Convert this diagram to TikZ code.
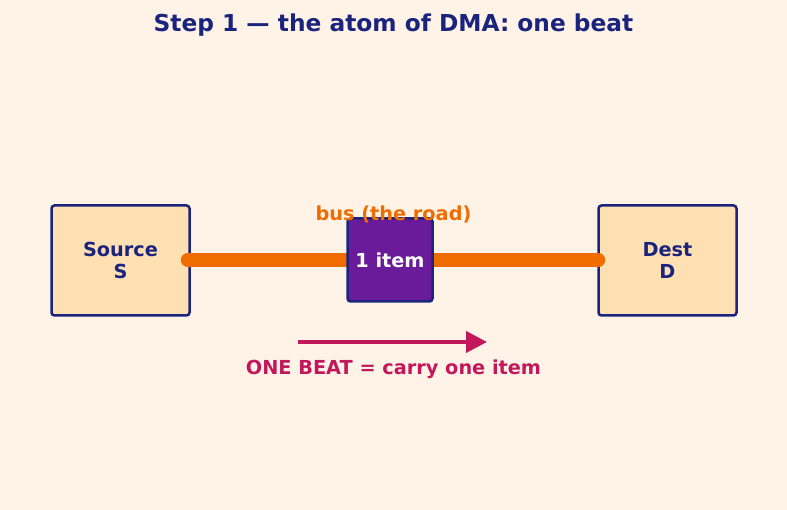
\documentclass[tikz,border=0pt]{standalone}
\usepackage{fontspec}
\setmainfont{DejaVu Sans}
\usetikzlibrary{arrows.meta}
\definecolor{bgc}{HTML}{FFF3E8}
\definecolor{boxfill}{HTML}{FFE0B2}
\definecolor{navy}{HTML}{1A237E}
\definecolor{busor}{HTML}{EF6C00}
\definecolor{itempurple}{HTML}{6A1B9A}
\definecolor{beatred}{HTML}{C2185B}
\begin{document}
\begin{tikzpicture}[x=1pt,y=-1pt,
  endbox/.style={draw=navy, line width=2.5pt, fill=boxfill, rounded corners=3pt,
    minimum width=138pt, minimum height=110pt, inner sep=0pt, align=center,
    text=navy, font=\fontsize{19.3}{22}\selectfont\bfseries},
  itembox/.style={draw=navy, line width=2.5pt, fill=itempurple, rounded corners=3pt,
    minimum width=85pt, minimum height=83pt, inner sep=0pt,
    text=white, font=\fontsize{19.3}{22}\selectfont\bfseries},
  lbl/.style={font=\fontsize{19.3}{22}\selectfont\bfseries, inner sep=0pt},
  bus/.style={line width=14pt, line cap=round, draw=busor},
  beat/.style={line width=4pt, draw=beatred, -{Triangle[length=21pt,width=21pt]}}
]
\fill[bgc] (0,0) rectangle (787,510);
\useasboundingbox (0,0) rectangle (787,510);
\node[lbl, font=\fontsize{23.3}{26}\selectfont\bfseries, text=navy] (title) at (393.5,25.5) {Step 1 — the atom of DMA: one beat};
\node[endbox] (src) at (120.5,260.5) {Source\\S};
\node[endbox] (dst) at (667.5,260.5) {Dest\\D};
\coordinate (busL) at ([xshift=-3pt]src.east);
\coordinate (busR) at ([xshift=1pt]dst.west);
\draw[bus] (busL|-0,260) -- (busR|-0,260);
\node[itembox] (item) at (390,260) {1 item};
\node[lbl, text=busor] (buslbl) at (393.5,214.5) {bus (the road)};
\coordinate (a1) at (298,342);
\coordinate (a2) at (487,342);
\draw[beat] (a1) -- (a2);
\node[lbl, text=beatred] (beatlbl) at (393.5,369) {ONE BEAT = carry one item};
\end{tikzpicture}
\end{document}
